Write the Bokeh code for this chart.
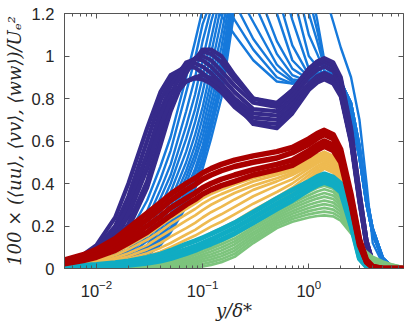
from bokeh.plotting import figure
from bokeh.models import LogAxis, LinearAxis, FixedTicker, CustomJSTickFormatter
from bokeh.embed import file_html
from bokeh.resources import INLINE

# wall-normal positions y/delta*
Y_DELTA = [0.005, 0.0075, 0.01, 0.015, 0.02, 0.03, 0.04, 0.05, 0.07, 0.085, 0.1, 0.12,
           0.15, 0.2, 0.3, 0.5, 0.7, 1.0, 1.2, 1.4, 1.7, 2.0, 2.5, 3.0, 3.5, 4.0, 5.0, 6.0, 8.0]

# <uu> during transition (light blue)
UU_TRANSITION = [
    [0.01, 0.02, 0.04, 0.09, 0.16, 0.32, 0.48, 0.62, 0.90, 1.07, 1.22, 1.26, 1.19, 1.10, 0.98, 0.88, 0.87, 0.90, 0.905, 0.90, 0.88, 0.84, 0.72, 0.52, 0.30, 0.16, 0.04, 0.01, 0.0],
    [0.008, 0.015, 0.03, 0.07, 0.13, 0.27, 0.42, 0.555, 0.83, 0.99, 1.15, 1.26, 1.28, 1.17, 1.03, 0.90, 0.87, 0.89, 0.90, 0.90, 0.88, 0.84, 0.72, 0.52, 0.30, 0.16, 0.04, 0.01, 0.0],
    [0.006, 0.012, 0.025, 0.06, 0.11, 0.23, 0.37, 0.49, 0.74, 0.90, 1.07, 1.22, 1.32, 1.25, 1.08, 0.93, 0.88, 0.89, 0.90, 0.90, 0.88, 0.84, 0.72, 0.52, 0.30, 0.16, 0.04, 0.01, 0.0],
    [0.005, 0.01, 0.02, 0.05, 0.09, 0.20, 0.33, 0.44, 0.67, 0.82, 0.98, 1.16, 1.33, 1.32, 1.16, 0.96, 0.89, 0.88, 0.895, 0.90, 0.88, 0.84, 0.72, 0.52, 0.30, 0.16, 0.04, 0.01, 0.0],
    [0.004, 0.008, 0.017, 0.04, 0.08, 0.17, 0.29, 0.40, 0.61, 0.75, 0.90, 1.08, 1.30, 1.40, 1.26, 1.01, 0.91, 0.88, 0.895, 0.90, 0.88, 0.84, 0.72, 0.52, 0.30, 0.16, 0.04, 0.01, 0.0],
    [0.004, 0.007, 0.015, 0.035, 0.07, 0.15, 0.26, 0.36, 0.55, 0.69, 0.83, 1.01, 1.24, 1.45, 1.36, 1.07, 0.94, 0.89, 0.905, 0.91, 0.895, 0.86, 0.75, 0.55, 0.32, 0.17, 0.045, 0.01, 0.0],
    [0.003, 0.006, 0.013, 0.03, 0.06, 0.13, 0.22, 0.32, 0.50, 0.63, 0.76, 0.94, 1.17, 1.45, 1.45, 1.20, 0.98, 0.90, 0.91, 0.91, 0.895, 0.86, 0.75, 0.55, 0.32, 0.17, 0.045, 0.01, 0.0],
    [0.003, 0.005, 0.011, 0.027, 0.05, 0.11, 0.20, 0.29, 0.46, 0.58, 0.71, 0.88, 1.10, 1.42, 1.52, 1.30, 1.05, 0.91, 0.915, 0.91, 0.895, 0.86, 0.75, 0.55, 0.32, 0.17, 0.045, 0.01, 0.0],
    [0.003, 0.005, 0.01, 0.024, 0.045, 0.10, 0.18, 0.26, 0.43, 0.54, 0.66, 0.83, 1.04, 1.38, 1.58, 1.42, 1.17, 0.94, 0.925, 0.91, 0.895, 0.86, 0.75, 0.55, 0.32, 0.17, 0.045, 0.01, 0.0],
    [0.002, 0.004, 0.009, 0.02, 0.04, 0.09, 0.16, 0.24, 0.40, 0.51, 0.62, 0.78, 0.98, 1.34, 1.62, 1.55, 1.30, 1.00, 0.95, 0.91, 0.895, 0.86, 0.75, 0.55, 0.32, 0.17, 0.045, 0.01, 0.0],
    [0.002, 0.004, 0.008, 0.018, 0.036, 0.08, 0.15, 0.22, 0.37, 0.47, 0.58, 0.74, 0.93, 1.30, 1.62, 1.65, 1.42, 1.10, 1.01, 0.93, 0.91, 0.88, 0.78, 0.58, 0.34, 0.19, 0.05, 0.012, 0.0],
    [0.002, 0.003, 0.007, 0.016, 0.032, 0.075, 0.14, 0.21, 0.35, 0.45, 0.55, 0.70, 0.89, 1.28, 1.60, 1.72, 1.52, 1.20, 1.07, 0.95, 0.915, 0.88, 0.78, 0.58, 0.34, 0.19, 0.05, 0.012, 0.0],
    [0.002, 0.003, 0.006, 0.015, 0.03, 0.07, 0.13, 0.19, 0.33, 0.42, 0.52, 0.68, 0.88, 1.27, 1.58, 1.78, 1.62, 1.28, 1.12, 0.97, 0.92, 0.88, 0.78, 0.58, 0.34, 0.19, 0.05, 0.012, 0.0],
    [0.002, 0.003, 0.006, 0.014, 0.028, 0.065, 0.12, 0.18, 0.31, 0.40, 0.50, 0.65, 0.85, 1.25, 1.55, 1.82, 1.70, 1.36, 1.17, 0.98, 0.925, 0.88, 0.78, 0.58, 0.34, 0.19, 0.05, 0.012, 0.0],
    [0.002, 0.003, 0.005, 0.012, 0.025, 0.06, 0.11, 0.17, 0.29, 0.375, 0.47, 0.61, 0.80, 1.22, 1.50, 1.85, 1.90, 1.70, 1.50, 1.30, 1.16, 1.04, 0.90, 0.70, 0.40, 0.12, 0.02, 0.005, 0.0],
]

# <uu> turbulent (dark blue)
UU_TURBULENT = [
    [0.04, 0.065, 0.11, 0.24, 0.40, 0.66, 0.83, 0.91, 0.95, 0.945, 0.92, 0.885, 0.84, 0.78, 0.71, 0.70, 0.76, 0.85, 0.885, 0.90, 0.88, 0.82, 0.60, 0.32, 0.11, 0.03, 0.005, 0.0, 0.0],
    [0.035, 0.06, 0.095, 0.20, 0.34, 0.60, 0.79, 0.89, 0.96, 0.965, 0.95, 0.92, 0.87, 0.80, 0.73, 0.72, 0.78, 0.87, 0.905, 0.92, 0.90, 0.84, 0.62, 0.33, 0.12, 0.03, 0.005, 0.0, 0.0],
    [0.03, 0.05, 0.08, 0.17, 0.29, 0.53, 0.74, 0.86, 0.97, 0.985, 0.98, 0.95, 0.90, 0.83, 0.75, 0.74, 0.80, 0.90, 0.935, 0.95, 0.93, 0.86, 0.63, 0.34, 0.12, 0.03, 0.005, 0.0, 0.0],
    [0.028, 0.045, 0.07, 0.14, 0.25, 0.47, 0.68, 0.82, 0.96, 0.99, 1.00, 0.98, 0.93, 0.86, 0.78, 0.76, 0.82, 0.92, 0.955, 0.97, 0.95, 0.88, 0.64, 0.35, 0.13, 0.03, 0.005, 0.0, 0.0],
    [0.025, 0.04, 0.06, 0.12, 0.21, 0.41, 0.62, 0.77, 0.93, 0.985, 1.02, 1.01, 0.97, 0.89, 0.80, 0.78, 0.84, 0.94, 0.97, 0.98, 0.96, 0.89, 0.65, 0.36, 0.13, 0.03, 0.005, 0.0, 0.0],
    [0.022, 0.035, 0.055, 0.11, 0.19, 0.38, 0.58, 0.74, 0.92, 0.985, 1.03, 1.03, 1.00, 0.91, 0.80, 0.77, 0.84, 0.94, 0.975, 0.99, 0.97, 0.90, 0.66, 0.36, 0.13, 0.03, 0.005, 0.0, 0.0],
    [0.03, 0.05, 0.085, 0.18, 0.30, 0.54, 0.72, 0.82, 0.88, 0.895, 0.89, 0.87, 0.83, 0.76, 0.69, 0.68, 0.75, 0.85, 0.885, 0.90, 0.88, 0.82, 0.60, 0.32, 0.11, 0.03, 0.005, 0.0, 0.0],
    [0.027, 0.045, 0.07, 0.15, 0.26, 0.48, 0.67, 0.79, 0.88, 0.90, 0.91, 0.895, 0.86, 0.78, 0.68, 0.66, 0.73, 0.84, 0.875, 0.89, 0.87, 0.81, 0.59, 0.31, 0.11, 0.03, 0.005, 0.0, 0.0],
]

# <ww> during transition (green)
WW_TRANSITION = [
    [0.003, 0.005, 0.007, 0.011, 0.016, 0.026, 0.036, 0.048, 0.070, 0.085, 0.100, 0.117, 0.140, 0.170, 0.220, 0.280, 0.320, 0.360, 0.380, 0.390, 0.375, 0.340, 0.220, 0.090, 0.030, 0.010, 0.003, 0.001, 0.0],
    [0.002, 0.004, 0.006, 0.009, 0.013, 0.021, 0.030, 0.040, 0.060, 0.074, 0.089, 0.104, 0.126, 0.156, 0.208, 0.269, 0.308, 0.345, 0.362, 0.373, 0.360, 0.326, 0.213, 0.093, 0.036, 0.016, 0.007, 0.003, 0.001],
    [0.002, 0.003, 0.004, 0.007, 0.010, 0.017, 0.024, 0.032, 0.050, 0.063, 0.078, 0.093, 0.113, 0.141, 0.195, 0.258, 0.295, 0.330, 0.345, 0.355, 0.343, 0.311, 0.206, 0.096, 0.042, 0.021, 0.011, 0.006, 0.001],
    [0.001, 0.002, 0.003, 0.005, 0.008, 0.013, 0.019, 0.025, 0.040, 0.052, 0.066, 0.080, 0.099, 0.127, 0.183, 0.246, 0.283, 0.315, 0.329, 0.338, 0.327, 0.297, 0.199, 0.099, 0.048, 0.027, 0.014, 0.008, 0.002],
    [0.001, 0.001, 0.002, 0.004, 0.006, 0.010, 0.014, 0.019, 0.031, 0.042, 0.055, 0.067, 0.085, 0.113, 0.170, 0.235, 0.270, 0.300, 0.312, 0.320, 0.310, 0.283, 0.193, 0.103, 0.054, 0.033, 0.018, 0.011, 0.003],
    [0.0, 0.001, 0.001, 0.003, 0.004, 0.007, 0.010, 0.013, 0.022, 0.032, 0.044, 0.055, 0.071, 0.098, 0.158, 0.224, 0.258, 0.285, 0.296, 0.303, 0.294, 0.268, 0.186, 0.106, 0.060, 0.038, 0.022, 0.013, 0.003],
    [0.0, 0.0, 0.001, 0.002, 0.003, 0.004, 0.006, 0.008, 0.015, 0.023, 0.033, 0.043, 0.058, 0.084, 0.145, 0.213, 0.245, 0.270, 0.279, 0.285, 0.277, 0.254, 0.179, 0.109, 0.066, 0.044, 0.026, 0.015, 0.004],
    [0.0, 0.0, 0.0, 0.001, 0.001, 0.002, 0.003, 0.004, 0.009, 0.014, 0.021, 0.030, 0.044, 0.069, 0.133, 0.201, 0.233, 0.255, 0.263, 0.268, 0.261, 0.239, 0.172, 0.112, 0.072, 0.049, 0.029, 0.018, 0.004],
    [0.0, 0.0, 0.0, 0.0, 0.0, 0.001, 0.001, 0.002, 0.004, 0.006, 0.010, 0.017, 0.030, 0.055, 0.120, 0.190, 0.220, 0.240, 0.247, 0.250, 0.245, 0.225, 0.165, 0.115, 0.078, 0.055, 0.033, 0.020, 0.005],
]

# <vv> during transition (yellow)
VV_TRANSITION = [
    [0.018, 0.03, 0.045, 0.075, 0.105, 0.155, 0.20, 0.235, 0.28, 0.305, 0.33, 0.35, 0.37, 0.395, 0.425, 0.45, 0.47, 0.51, 0.535, 0.55, 0.53, 0.47, 0.28, 0.10, 0.025, 0.005, 0.0, 0.0, 0.0],
    [0.015, 0.025, 0.037, 0.062, 0.09, 0.135, 0.175, 0.21, 0.255, 0.28, 0.305, 0.328, 0.35, 0.375, 0.41, 0.44, 0.46, 0.50, 0.525, 0.54, 0.52, 0.46, 0.27, 0.10, 0.025, 0.005, 0.0, 0.0, 0.0],
    [0.012, 0.02, 0.03, 0.05, 0.072, 0.11, 0.15, 0.18, 0.225, 0.25, 0.275, 0.30, 0.325, 0.355, 0.39, 0.425, 0.45, 0.49, 0.515, 0.53, 0.51, 0.45, 0.27, 0.10, 0.025, 0.005, 0.0, 0.0, 0.0],
    [0.01, 0.016, 0.024, 0.04, 0.058, 0.09, 0.12, 0.15, 0.19, 0.215, 0.24, 0.265, 0.29, 0.325, 0.37, 0.41, 0.44, 0.48, 0.505, 0.52, 0.50, 0.44, 0.26, 0.09, 0.02, 0.005, 0.0, 0.0, 0.0],
    [0.008, 0.013, 0.019, 0.032, 0.046, 0.072, 0.097, 0.12, 0.16, 0.182, 0.205, 0.23, 0.255, 0.29, 0.34, 0.39, 0.42, 0.47, 0.495, 0.51, 0.49, 0.43, 0.25, 0.09, 0.02, 0.004, 0.0, 0.0, 0.0],
    [0.007, 0.011, 0.016, 0.026, 0.037, 0.058, 0.079, 0.10, 0.135, 0.155, 0.175, 0.197, 0.22, 0.255, 0.305, 0.36, 0.40, 0.455, 0.482, 0.50, 0.48, 0.42, 0.25, 0.09, 0.02, 0.004, 0.0, 0.0, 0.0],
    [0.006, 0.009, 0.013, 0.021, 0.03, 0.047, 0.064, 0.08, 0.11, 0.127, 0.145, 0.167, 0.19, 0.22, 0.275, 0.335, 0.38, 0.44, 0.47, 0.49, 0.47, 0.41, 0.24, 0.085, 0.02, 0.004, 0.0, 0.0, 0.0],
    [0.005, 0.008, 0.011, 0.017, 0.024, 0.038, 0.052, 0.066, 0.09, 0.105, 0.12, 0.14, 0.16, 0.19, 0.245, 0.31, 0.36, 0.425, 0.457, 0.48, 0.46, 0.40, 0.24, 0.085, 0.02, 0.004, 0.0, 0.0, 0.0],
    [0.005, 0.007, 0.009, 0.014, 0.02, 0.031, 0.043, 0.054, 0.075, 0.087, 0.10, 0.117, 0.135, 0.165, 0.22, 0.29, 0.34, 0.41, 0.445, 0.47, 0.45, 0.39, 0.23, 0.08, 0.02, 0.004, 0.0, 0.0, 0.0],
]

# <ww> turbulent (cyan)
WW_TURBULENT = [
    [0.012, 0.015, 0.019, 0.027, 0.036, 0.052, 0.068, 0.085, 0.115, 0.13, 0.145, 0.162, 0.185, 0.215, 0.265, 0.33, 0.37, 0.41, 0.432, 0.445, 0.43, 0.40, 0.23, 0.06, 0.012, 0.002, 0.0, 0.0, 0.0],
    [0.006, 0.009, 0.012, 0.018, 0.025, 0.038, 0.05, 0.065, 0.09, 0.105, 0.12, 0.137, 0.16, 0.19, 0.24, 0.305, 0.345, 0.39, 0.412, 0.425, 0.41, 0.38, 0.21, 0.05, 0.01, 0.002, 0.0, 0.0, 0.0],
    [0.002, 0.004, 0.006, 0.01, 0.015, 0.025, 0.035, 0.047, 0.07, 0.085, 0.10, 0.115, 0.135, 0.165, 0.215, 0.28, 0.32, 0.37, 0.392, 0.405, 0.39, 0.36, 0.20, 0.045, 0.008, 0.001, 0.0, 0.0, 0.0],
]

# <vv> turbulent (red)
VV_TURBULENT = [
    [0.04, 0.065, 0.09, 0.14, 0.19, 0.26, 0.31, 0.35, 0.40, 0.425, 0.45, 0.47, 0.49, 0.51, 0.53, 0.55, 0.57, 0.61, 0.635, 0.65, 0.63, 0.56, 0.35, 0.14, 0.04, 0.01, 0.0, 0.0, 0.0],
    [0.033, 0.055, 0.077, 0.12, 0.165, 0.23, 0.28, 0.32, 0.37, 0.395, 0.42, 0.44, 0.46, 0.48, 0.50, 0.52, 0.545, 0.585, 0.612, 0.63, 0.61, 0.54, 0.33, 0.13, 0.035, 0.008, 0.0, 0.0, 0.0],
    [0.027, 0.045, 0.065, 0.10, 0.14, 0.20, 0.245, 0.285, 0.33, 0.355, 0.38, 0.40, 0.42, 0.44, 0.465, 0.49, 0.51, 0.555, 0.582, 0.60, 0.58, 0.52, 0.31, 0.12, 0.03, 0.006, 0.0, 0.0, 0.0],
    [0.022, 0.037, 0.053, 0.085, 0.12, 0.17, 0.215, 0.25, 0.30, 0.325, 0.35, 0.37, 0.39, 0.41, 0.44, 0.465, 0.485, 0.53, 0.557, 0.575, 0.555, 0.50, 0.30, 0.11, 0.03, 0.005, 0.0, 0.0, 0.0],
]

X_MAJOR = [0.01, 0.1, 1.0]
Y_MAJOR = [0.0, 0.2, 0.4, 0.6, 0.8, 1.0, 1.2]
X_MINOR = [m * 10.0 ** k for k in (-3, -2, -1, 0) for m in range(2, 10)
           if 0.005 <= m * 10.0 ** k <= 7.8]

p = figure(width=407, height=323, x_axis_type="log", x_range=(0.005, 7.8), y_range=(0, 1.2),
           output_backend="svg", toolbar_location=None,
           min_border_left=64, min_border_right=4, min_border_top=13, min_border_bottom=55)
p.grid.visible = False
p.outline_line_color = "#555555"
p.outline_line_width = 1
p.background_fill_color = "white"

families = [
    (UU_TRANSITION, "#1679db", 2.4),
    (UU_TURBULENT, "#362a8a", 4.2),
    (WW_TRANSITION, "#7dc47d", 2.7),
    (VV_TRANSITION, "#eeba50", 2.7),
    (WW_TURBULENT, "#10acc3", 5.0),
    (VV_TURBULENT, "#aa0000", 5.5),
]
for curves, color, lw in families:
    for c in curves:
        n = min(len(c), len(Y_DELTA))
        p.line(Y_DELTA[:n], c[:n], line_color=color, line_width=lw,
               line_join="round", line_cap="round")

tick_font = "Liberation Sans"
label_color = "#262626"

bx = p.below[0]
bx.ticker = FixedTicker(ticks=X_MAJOR, minor_ticks=X_MINOR)
ly = p.left[0]
ly.ticker = FixedTicker(ticks=Y_MAJOR, minor_ticks=[])
ly.major_label_overrides = {0: "0", 1: "1"}

for ax in (bx, ly):
    ax.major_tick_in = 5
    ax.major_tick_out = 0
    ax.minor_tick_in = 3
    ax.minor_tick_out = 0
    ax.axis_line_color = "#555555"
    ax.major_tick_line_color = "#555555"
    ax.minor_tick_line_color = "#555555"
    ax.major_label_text_font = tick_font
    ax.major_label_text_font_size = "16.5px"
    ax.major_label_text_color = label_color
    ax.axis_label_text_font = "DejaVu Serif"
    ax.axis_label_text_font_style = "italic"
    ax.axis_label_text_font_size = "18px"
    ax.axis_label_text_color = label_color

bx.major_label_standoff = 11
bx.axis_label = "y/δ*"
bx.axis_label_standoff = 0
ly.major_label_standoff = 10
ly.axis_label = "100 × (⟨uu⟩, ⟨vv⟩, ⟨ww⟩)/Uₑ²"
ly.axis_label_standoff = 4

blank = CustomJSTickFormatter(code="return ' ';")
top = LogAxis(ticker=FixedTicker(ticks=X_MAJOR, minor_ticks=X_MINOR), formatter=blank)
right = LinearAxis(ticker=FixedTicker(ticks=Y_MAJOR, minor_ticks=[]), formatter=blank)
for ax in (top, right):
    ax.major_tick_in = 5
    ax.major_tick_out = 0
    ax.minor_tick_in = 3
    ax.minor_tick_out = 0
    ax.axis_line_color = None
    ax.major_tick_line_color = "#555555"
    ax.minor_tick_line_color = "#555555"
    ax.major_label_text_font_size = "2px"
    ax.major_label_text_alpha = 0
    ax.major_label_standoff = 0
p.add_layout(top, "above")
p.add_layout(right, "right")

open("out.html", "w").write(file_html(p, INLINE))
